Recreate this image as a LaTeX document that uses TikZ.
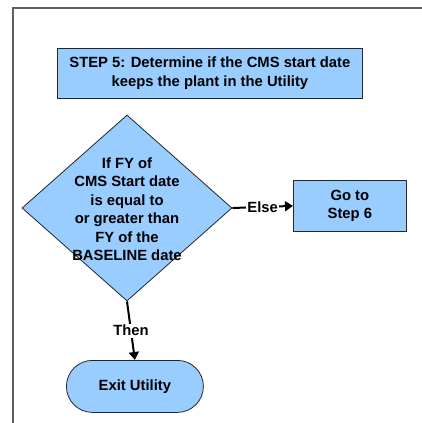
\documentclass[tikz,border=0pt]{standalone}
\usepackage{fontspec}
\setmainfont{Liberation Sans}
\usetikzlibrary{shapes.geometric,arrows.meta}
\definecolor{boxblue}{HTML}{99CCFF}
\definecolor{framegray}{HTML}{606060}
\tikzset{
  box/.style={draw=black!85, line width=0.8pt, fill=boxblue, inner sep=0pt, anchor=north west},
  txt/.style={font=\fontsize{14.8}{18.5}\selectfont\bfseries, align=center, inner sep=0pt},
  conn/.style={line width=2pt, -{Triangle[length=8pt,width=10pt]}},
  lab/.style={font=\fontsize{14.8}{16}\selectfont\bfseries, fill=white, inner sep=1.5pt},
}
\begin{document}
\begin{tikzpicture}[x=1pt,y=-1pt]
\useasboundingbox (0,0) rectangle (422,423);
% frame
\draw[framegray, line width=1.5pt] (13,423) -- (13,8) -- (422,8);
% step box
\node[box, minimum width=305pt, minimum height=50pt] (step) at (57,48) {};
\node[txt] (steptxt) at (step.center) {STEP 5: Determine if the CMS start date\\keeps the plant in the Utility};
% diamond
\node[diamond, draw=black!85, line width=0.8pt, fill=boxblue, minimum width=210pt, minimum height=186pt, inner sep=0pt] (dec) at (127,208) {};
\node[txt] (dectxt) at (127,209) {If FY of\\CMS Start date\\is equal to\\or greater than\\FY of the\\BASELINE date};
% go to step 6
\node[box, minimum width=113pt, minimum height=51pt] (go) at (293,180) {};
\node[txt] (gotxt) at (go.center) {Go to\\Step 6};
% exit
\node[box, rounded corners=26pt, minimum width=137pt, minimum height=52pt] (exit) at (66,360) {};
\node[txt] (exittxt) at (exit.center) {Exit Utility};
% connectors
\draw[conn] (dec.east) -- node[lab, inner xsep=1pt] (else) {Else} (go.west);
\draw[conn] (dec.south) -- node[lab, pos=0.5] (then) {Then} (exit.north);
\end{tikzpicture}
\end{document}
